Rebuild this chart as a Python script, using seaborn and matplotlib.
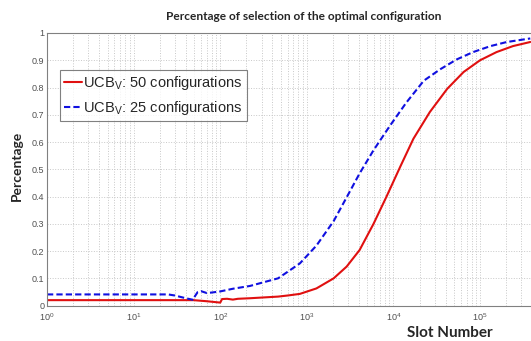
import numpy as np
import pandas as pd
import matplotlib
matplotlib.use('Agg')
import matplotlib.pyplot as plt
import seaborn as sns
from matplotlib.ticker import LogLocator, NullFormatter, FixedLocator

# values
slots_50 = [1, 49, 70, 100, 105, 120, 140, 160, 220, 465, 600, 832, 1290, 2040, 2880,
            4070, 5890, 8320, 12000, 17000, 26300, 41700, 64600, 100000, 155000,
            240000, 380000]
pct_50 = [0.020, 0.020, 0.016, 0.011, 0.024, 0.025, 0.022, 0.025, 0.027, 0.033, 0.037,
          0.043, 0.063, 0.100, 0.143, 0.204, 0.300, 0.400, 0.510, 0.612, 0.710, 0.795,
          0.857, 0.900, 0.930, 0.952, 0.967]

slots_25 = [1, 25, 30, 40, 49, 50, 55, 60, 70, 80, 100, 141, 220, 465, 640, 832, 1290,
            2040, 2880, 4070, 5890, 9120, 14100, 22400, 34700, 53700, 83200, 132000,
            204000, 380000]
pct_25 = [0.041, 0.041, 0.037, 0.027, 0.021, 0.030, 0.050, 0.053, 0.046, 0.048, 0.052,
          0.062, 0.072, 0.100, 0.130, 0.155, 0.220, 0.310, 0.397, 0.485, 0.570, 0.660,
          0.745, 0.825, 0.867, 0.903, 0.930, 0.952, 0.967, 0.980]

y_ticks = [0, 0.1, 0.2, 0.3, 0.4, 0.5, 0.6, 0.7, 0.8, 0.9, 1]
y_labels = ['0', '0.1', '0.2', '0.3', '0.4', '0.5', '0.6', '0.7', '0.8', '0.9', '1']

sns.set_theme(style='white')
plt.rcParams['font.family'] = ['Liberation Sans', 'DejaVu Sans']
plt.rcParams['mathtext.fontset'] = 'custom'
plt.rcParams['mathtext.rm'] = 'Liberation Sans'
plt.rcParams['mathtext.it'] = 'Liberation Sans'

df50 = pd.DataFrame({'slot': slots_50, 'pct': pct_50})
df25 = pd.DataFrame({'slot': slots_25, 'pct': pct_25})

fig = plt.figure(figsize=(5.31, 3.41), dpi=100)
ax = fig.add_axes([47 / 531, 1 - 305.6 / 341, 1 - 47 / 531 + 0.002, (305.6 - 33) / 341])

sns.lineplot(data=df50, x='slot', y='pct', ax=ax, color='#e01010', lw=1.5,
             estimator=None, sort=False, label=r'UCB$_{\mathrm{V}}$: 50 configurations')
sns.lineplot(data=df25, x='slot', y='pct', ax=ax, color='#1010e0', lw=1.5,
             estimator=None, sort=False, label=r'UCB$_{\mathrm{V}}$: 25 configurations')
ax.lines[1].set_linestyle((0, (3, 1.5)))

ax.set_xscale('log')
ax.set_xlim(1, 10 ** ((532 - 47) / 86.6))
ax.set_ylim(0, 1)
ax.set_yticks(y_ticks)
ax.set_yticklabels(y_labels)
ax.xaxis.set_major_locator(FixedLocator([1, 10, 100, 1000, 10000, 100000]))
ax.xaxis.set_minor_locator(LogLocator(base=10, subs=np.arange(2, 10), numticks=20))
ax.xaxis.set_minor_formatter(NullFormatter())

ax.grid(which='both', axis='x', color='#c8c8c8', ls=':', lw=0.7)
ax.grid(which='major', axis='y', color='#c8c8c8', ls=':', lw=0.7)
ax.tick_params(which='both', direction='in', colors='#505050', labelsize=6.5,
               top=False, right=False)
ax.tick_params(axis='x', pad=4)
ax.tick_params(axis='y', pad=2)
ax.tick_params(which='major', length=3, width=0.6)
ax.tick_params(which='minor', length=1.8, width=0.5)
for side in ['left', 'bottom', 'top']:
    ax.spines[side].set_color('#808080')
    ax.spines[side].set_linewidth(0.8)
ax.spines['right'].set_visible(False)
ax.set_xlabel('')
ax.set_ylabel('')

leg = ax.legend(loc='upper left', bbox_to_anchor=((60 - 47) / 484, (305.6 - 70) / 272.6),
                fontsize=10.5, frameon=True, fancybox=False, handlelength=1.2,
                handletextpad=0.1, borderpad=0.3, labelspacing=0.45, borderaxespad=0)
leg.get_frame().set_edgecolor('#606060')
leg.get_frame().set_linewidth(0.8)

fig.text(304 / 531, 1 - 17 / 341, 'Percentage of selection of the optimal configuration',
         ha='center', va='center', fontsize=8.6, fontweight='bold', family='Lato')
fig.text(17 / 531, 1 - 166 / 341, 'Percentage', rotation=90, ha='center', va='center',
         fontsize=10, fontweight='bold', family='Lato')
fig.text(450 / 531, 1 - 333 / 341, 'Slot Number', ha='center', va='center',
         fontsize=11, fontweight='bold', family='Lato')

fig.savefig('out.png', dpi=100)
